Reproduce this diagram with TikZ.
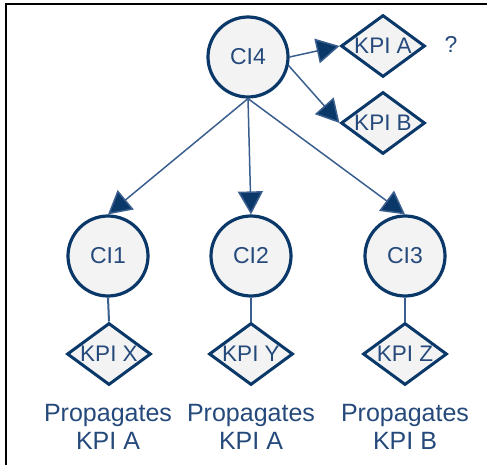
\documentclass[tikz,border=0pt]{standalone}
\usepackage{fontspec}
\setmainfont{Liberation Sans}
\usetikzlibrary{shapes.geometric,arrows.meta}
\definecolor{navy}{HTML}{0A3868}
\definecolor{txt}{HTML}{24497A}
\definecolor{fillg}{HTML}{F3F3F4}
\definecolor{linec}{HTML}{3A5F8E}
\tikzset{
  cinode/.style={circle,draw=navy,line width=3.2pt,fill=fillg,minimum size=80pt,inner sep=0pt,text=txt,font=\fontsize{23}{24}\selectfont},
  kpinode/.style={diamond,draw=navy,line width=3pt,fill=fillg,minimum width=84pt,minimum height=62pt,aspect=1.35,inner sep=-4pt,text=txt,font=\fontsize{22.5}{24}\selectfont},
  arr/.style={draw=linec,line width=1.5pt,-{Triangle[length=23pt,width=25pt,fill=navy]}},
  link/.style={draw=linec,line width=2pt},
  caption/.style={align=center,text=txt,font=\fontsize{25}{28}\selectfont,inner sep=0pt},
  frame/.style={draw=black,line width=2pt}
}
\begin{document}
\begin{tikzpicture}[x=1pt,y=-1pt]
\useasboundingbox (0,0) rectangle (487,465);
\draw[frame] (6,466) -- (6,4) -- (488,4);
\node[cinode] (ci4) at (248,57) {CI4};
\node[kpinode] (kpia) at (383,46) {KPI A};
\node[kpinode] (kpib) at (383,123) {KPI B};
\node[text=txt,font=\fontsize{23}{24}\selectfont] (q) at (451,44) {?};
\node[cinode] (ci1) at (108,256) {CI1};
\node[cinode] (ci2) at (251,256) {CI2};
\node[cinode] (ci3) at (405,256) {CI3};
\node[kpinode] (kpix) at (109,354) {KPI X};
\node[kpinode] (kpiy) at (251,354) {KPI Y};
\node[kpinode] (kpiz) at (405,354) {KPI Z};
\node[caption] (p1) at (108,427) {Propagates\\KPI A};
\node[caption] (p2) at (251,427) {Propagates\\KPI A};
\node[caption] (p3) at (405,427) {Propagates\\KPI B};
\draw[arr] (ci4.east) -- (kpia.west);
\draw[arr] (ci4.-12) -- (kpib.west);
\draw[arr] (ci4.south) -- (ci1.north);
\draw[arr] (ci4.south) -- (ci2.north);
\draw[arr] (ci4.south) -- (ci3.north);
\draw[link] (ci1.south) -- (kpix.north);
\draw[link] (ci2.south) -- (kpiy.north);
\draw[link] (ci3.south) -- (kpiz.north);
\end{tikzpicture}
\end{document}
